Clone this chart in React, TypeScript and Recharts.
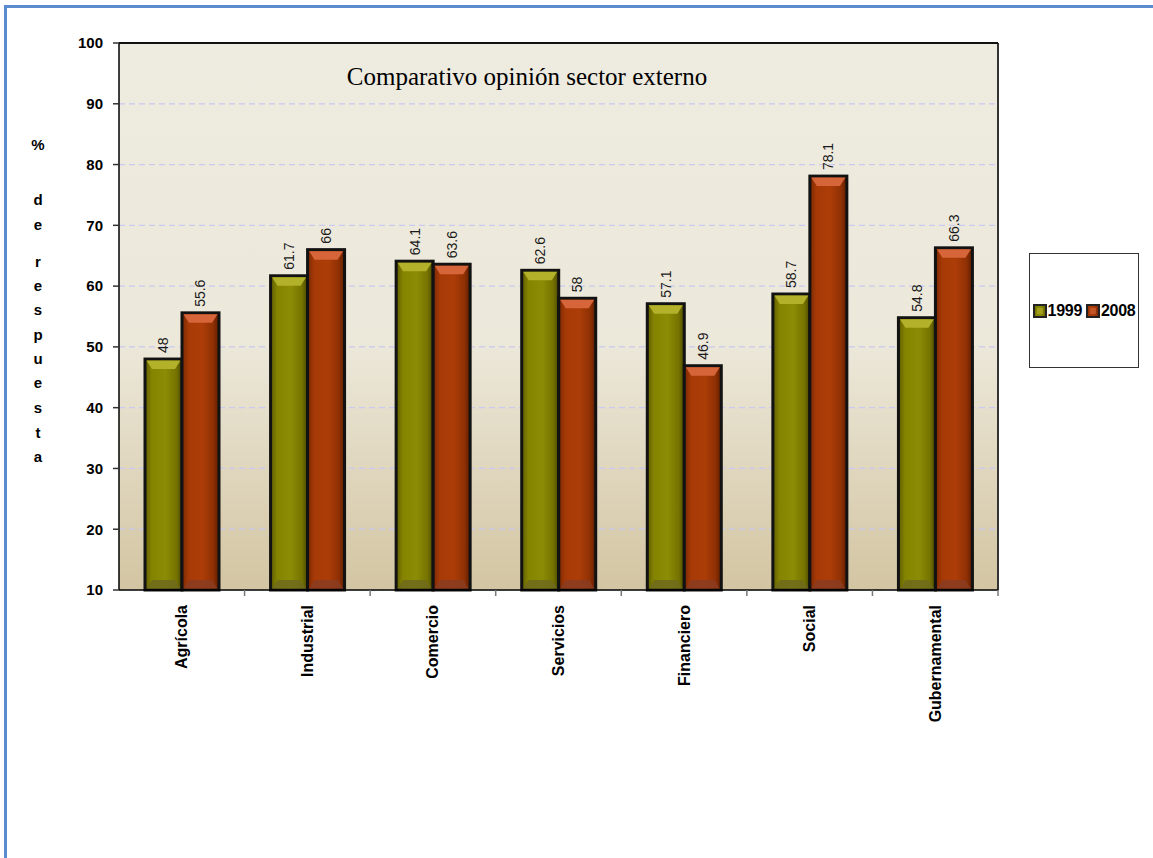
import React from "react";
import {
  BarChart,
  Bar,
  XAxis,
  YAxis,
  CartesianGrid,
  Legend,
  LabelList,
  ReferenceLine,
} from "recharts";

const sectores = [
  "Agrícola",
  "Industrial",
  "Comercio",
  "Servicios",
  "Financiero",
  "Social",
  "Gubernamental",
];
const valores1999 = [48, 61.7, 64.1, 62.6, 57.1, 58.7, 54.8];
const valores2008 = [55.6, 66, 63.6, 58, 46.9, 78.1, 66.3];
const yTicks = [10, 20, 30, 40, 50, 60, 70, 80, 90, 100];

const data = sectores.map((s, i) => ({
  sector: s,
  y1999: valores1999[i],
  y2008: valores2008[i],
}));

const FONT = "'Liberation Sans', Arial, sans-serif";

const palettes: Record<string, { top: string; bottom: string }> = {
  olive: { top: "#b3b12a", bottom: "#6f6a1c" },
  red: { top: "#d6653a", bottom: "#8a3c22" },
};

function bevelBar(key: string) {
  return (props: any) => {
    const { x, y, width, height } = props;
    if (!height || height <= 0) return null;
    const d = Math.min(10, height / 2);
    const p = palettes[key];
    return (
      <g>
        <rect
          x={x}
          y={y}
          width={width}
          height={height}
          fill={`url(#side-${key})`}
          stroke="#121212"
          strokeWidth={3}
        />
        <polygon
          points={`${x + 1.5},${y + 1.5} ${x + width - 1.5},${y + 1.5} ${x + width - 7},${y + d} ${x + 7},${y + d}`}
          fill={p.top}
        />
        <polygon
          points={`${x + 7},${y + height - d} ${x + width - 7},${y + height - d} ${x + width - 1.5},${y + height - 1.5} ${x + 1.5},${y + height - 1.5}`}
          fill={p.bottom}
          opacity={0.85}
        />
      </g>
    );
  };
}

const ValueLabel = (props: any) => {
  const { x, y, width, value } = props;
  const cx = x + width / 2;
  const cy = y - 6;
  return (
    <text
      x={cx}
      y={cy}
      transform={`rotate(-90 ${cx} ${cy})`}
      textAnchor="start"
      dominantBaseline="central"
      fontFamily={FONT}
      fontSize={14}
      fill="#1a1a1a"
    >
      {value}
    </text>
  );
};

const CategoryTick = (props: any) => {
  const { x, y, payload } = props;
  const half = payload && payload.offset ? payload.offset : 62.8;
  const ty = y + 9;
  return (
    <g>
      <line x1={x + half} x2={x + half} y1={y - 6} y2={y} stroke="#777" strokeWidth={1.5} />
      <text
        x={x}
        y={ty}
        transform={`rotate(-90 ${x} ${ty})`}
        textAnchor="end"
        dominantBaseline="central"
        fontFamily={FONT}
        fontWeight="bold"
        fontSize={16}
        fill="#000"
      >
        {payload.value}
      </text>
    </g>
  );
};

const LegendMarker = ({ kind }: { kind: string }) => (
  <svg width={14} height={14} style={{ verticalAlign: "middle" }}>
    <rect x={1} y={1} width={12} height={12} fill={`url(#side-${kind})`} stroke="#222" strokeWidth={2} />
    <rect x={4} y={4} width={6} height={6} fill={palettes[kind].top} opacity={0.6} />
  </svg>
);

const LegendBox = () => (
  <div
    style={{
      width: 108,
      height: 113,
      border: "1px solid #333",
      background: "#fff",
      display: "flex",
      alignItems: "center",
      justifyContent: "center",
      fontFamily: FONT,
      fontWeight: "bold",
      fontSize: 16,
      whiteSpace: "nowrap",
      letterSpacing: -0.3,
    }}
  >
    <LegendMarker kind="olive" />
    <span style={{ marginLeft: 1, marginRight: 4 }}>1999</span>
    <LegendMarker kind="red" />
    <span style={{ marginLeft: 1 }}>2008</span>
  </div>
);

const yLetters = [
  { c: "%", y: 145 },
  { c: "d", y: 200 },
  { c: "e", y: 225 },
  { c: "r", y: 262 },
  { c: "e", y: 286 },
  { c: "s", y: 310 },
  { c: "p", y: 335 },
  { c: "u", y: 359 },
  { c: "e", y: 383 },
  { c: "s", y: 408 },
  { c: "t", y: 433 },
  { c: "a", y: 457 },
];

export default function App() {
  return (
    <div
      style={{
        position: "absolute",
        left: 0,
        top: 0,
        width: 1153,
        height: 858,
        overflow: "hidden",
        background: "#fff",
      }}
    >
      <div
        style={{
          position: "absolute",
          left: 4,
          top: 5,
          width: 1300,
          height: 1000,
          borderTop: "3px solid #5b8bcf",
          borderLeft: "3px solid #5b8bcf",
        }}
      />
      <BarChart
        width={1153}
        height={858}
        data={data}
        margin={{ top: 43, right: 155, bottom: 168, left: 69 }}
        barGap={0}
        style={{ position: "absolute", left: 0, top: 0 }}
      >
        <defs>
          <linearGradient id="plotBg" x1="0" y1="0" x2="0" y2="1">
            <stop offset="0%" stopColor="#eeebe0" />
            <stop offset="55%" stopColor="#ece8da" />
            <stop offset="100%" stopColor="#d3c5a2" />
          </linearGradient>
          <linearGradient id="side-olive" x1="0" y1="0" x2="1" y2="0">
            <stop offset="0%" stopColor="#5e5c00" />
            <stop offset="18%" stopColor="#858400" />
            <stop offset="55%" stopColor="#8d8c05" />
            <stop offset="85%" stopColor="#767300" />
            <stop offset="100%" stopColor="#4a4800" />
          </linearGradient>
          <linearGradient id="side-red" x1="0" y1="0" x2="1" y2="0">
            <stop offset="0%" stopColor="#7a2804" />
            <stop offset="18%" stopColor="#a63a06" />
            <stop offset="55%" stopColor="#ad3d08" />
            <stop offset="85%" stopColor="#8e3004" />
            <stop offset="100%" stopColor="#5c1c00" />
          </linearGradient>
        </defs>
        <CartesianGrid
          vertical={false}
          stroke="#c9c9f2"
          strokeDasharray="6 4"
          strokeWidth={1.2}
          fill="url(#plotBg)"
          fillOpacity={1}
        />
        <CartesianGrid
          horizontal={false}
          verticalCoordinatesGenerator={({ offset }: any) => [offset.left + offset.width]}
          stroke="#333"
          strokeWidth={2}
        />
        <XAxis
          dataKey="sector"
          interval={0}
          height={100}
          tickSize={6}
          tickMargin={0}
          tickLine={false}
          axisLine={{ stroke: "#000", strokeWidth: 1.5 }}
          tick={<CategoryTick />}
        />
        <YAxis
          domain={[10, 100]}
          ticks={yTicks}
          interval={0}
          width={50}
          tickSize={6}
          tickMargin={10}
          axisLine={{ stroke: "#000", strokeWidth: 1.5 }}
          tickLine={{ stroke: "#333", strokeWidth: 1.5 }}
          tick={{ fontFamily: FONT, fontWeight: "bold", fontSize: 15, fill: "#000" }}
        />
        <ReferenceLine y={100} stroke="#111" strokeWidth={2} />
        <Legend
          content={<LegendBox />}
          layout="horizontal"
          verticalAlign="middle"
          align="center"
          wrapperStyle={{ left: 1029, top: 253, width: 110 }}
        />
        <Bar dataKey="y1999" name="1999" barSize={37} fill="#858400" shape={bevelBar("olive")} isAnimationActive={false}>
          <LabelList dataKey="y1999" content={<ValueLabel />} />
        </Bar>
        <Bar dataKey="y2008" name="2008" barSize={37} fill="#a63a06" shape={bevelBar("red")} isAnimationActive={false}>
          <LabelList dataKey="y2008" content={<ValueLabel />} />
        </Bar>
      </BarChart>
      <div
        style={{
          position: "absolute",
          left: 277,
          top: 63,
          width: 500,
          textAlign: "center",
          fontFamily: "'Liberation Serif', 'Times New Roman', serif",
          fontSize: 25,
          color: "#000",
        }}
      >
        Comparativo opinión sector externo
      </div>
      {yLetters.map((l, i) => (
        <div
          key={i}
          style={{
            position: "absolute",
            left: 28,
            width: 20,
            top: l.y - 9,
            textAlign: "center",
            fontFamily: FONT,
            fontWeight: "bold",
            fontSize: 15,
            lineHeight: "18px",
          }}
        >
          {l.c}
        </div>
      ))}
    </div>
  );
}
